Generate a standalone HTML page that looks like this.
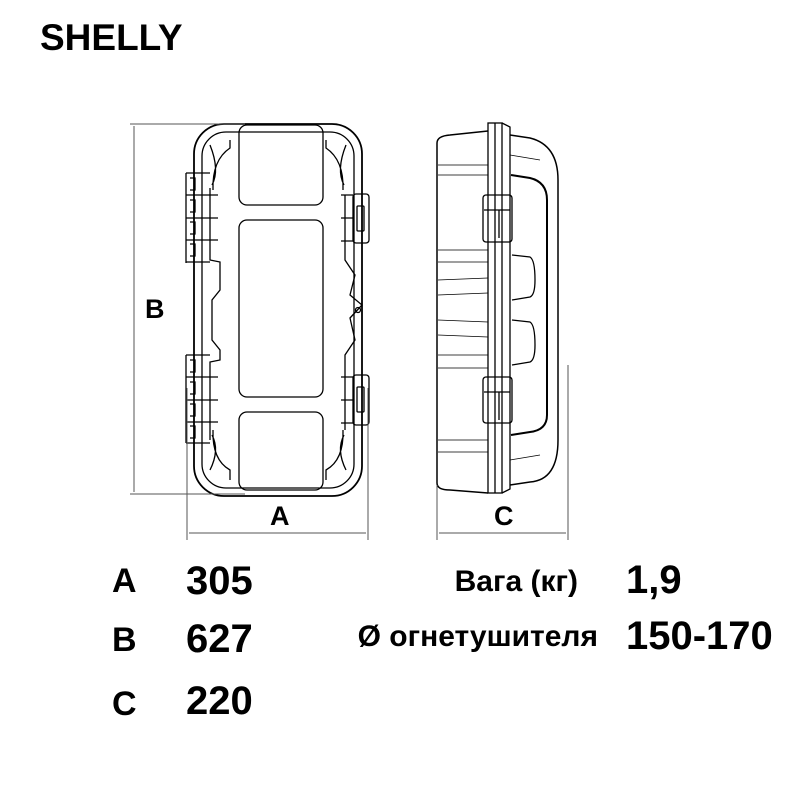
<!DOCTYPE html>
<html><head><meta charset="utf-8"><style>
body{margin:0;width:801px;height:801px;background:#fff;position:relative;overflow:hidden;font-family:"Liberation Sans",sans-serif;font-weight:bold;color:#000}
.t{position:absolute;white-space:nowrap}
</style></head><body>
<svg width="801" height="801" style="position:absolute;left:0;top:0" fill="none" stroke="#000" stroke-width="1.3">
<!-- front view -->
<rect x="194" y="124" width="168" height="372" rx="30" stroke-width="1.8"/>
<rect x="202" y="132" width="152" height="356" rx="24"/>
<rect x="239" y="125" width="84" height="80" rx="8"/>
<rect x="239" y="220" width="84" height="177" rx="8"/>
<rect x="239" y="412" width="84" height="78" rx="8"/>
<path d="M210 145 Q220 170 212 185 M230 140 L230 148 Q212 160 213 190"/>
<path d="M346 145 Q336 170 344 185 M326 140 L326 148 Q344 160 343 190"/>
<path d="M210 470 Q220 450 212 435 M230 480 L230 470 Q212 460 213 430"/>
<path d="M346 470 Q336 450 344 435 M326 480 L326 470 Q344 460 343 430"/>
<path d="M210 188 L210 260 L220 262 L220 290 L212 300 L212 340 L220 350 L220 360 L210 362 L210 440"/>
<path d="M345 195 L345 260 L355 275 L350 295 L362 305 L350 318 L355 340 L345 355 L345 430"/>
<circle cx="358" cy="310" r="2.5"/>
<g stroke-width="1.3">
<path d="M186 173 L186 263 M186 355 L186 443"/>
<path d="M186 173 L210 173 M186 195 L218 195 M186 218 L218 218 M186 240 L218 240 M186 262 L210 262"/>
<path d="M186 355 L210 355 M186 377 L218 377 M186 400 L218 400 M186 422 L218 422 M186 443 L210 443"/>
<path d="M190 178 h5 v12 h-5 M190 200 h5 v12 h-5 M190 222 h5 v12 h-5 M190 244 h5 v12 h-5"/>
<path d="M190 360 h5 v12 h-5 M190 382 h5 v12 h-5 M190 404 h5 v12 h-5 M190 426 h5 v12 h-5"/>
<rect x="353" y="194" width="16" height="49" rx="3"/>
<rect x="357" y="206" width="7" height="25" rx="1"/>
<rect x="353" y="375" width="16" height="50" rx="3"/>
<rect x="357" y="387" width="7" height="25" rx="1"/>
<path d="M341 195 h12 M341 218 h12 M341 241 h12 M341 377 h12 M341 400 h12 M341 423 h12"/>
</g>
<!-- dims front -->
<g stroke-width="1" stroke="#555">
<path d="M130 124 H245 M130 494 H245 M134 126 V492"/>
<path d="M187 388 V540 M368 388 V540 M189 533 H366"/>
</g>
<!-- side view -->
<path d="M437 143 Q437 136 450 135 L488 131 M437 143 V483 Q437 490 450 490 L488 493" stroke-width="1.5"/>
<rect x="488" y="123" width="14" height="370"/>
<path d="M495 123 V493"/>
<path d="M502 123 L510 127 V489 L502 493"/>
<path d="M510 135 L530 138 Q558 145 558 180 V440 Q558 480 530 482 L510 485" stroke-width="1.5"/>
<path d="M511 175 L530 178 Q547 182 547 200 V415 Q547 430 530 432 L511 435" stroke-width="2"/>
<path d="M512 255 L530 257 Q535 260 535 280 Q535 295 530 297 L512 300"/>
<path d="M512 320 L530 322 Q535 325 535 345 Q535 360 530 362 L512 365"/>
<rect x="483" y="195" width="29" height="47" rx="3"/>
<path d="M484 210 H510 M499 210 V238"/>
<rect x="483" y="377" width="29" height="46" rx="3"/>
<path d="M484 392 H510 M499 392 V420"/>
<path d="M438 165 H488 M438 175 H488 M438 250 H488 M438 262 L488 262 M438 280 L488 278 M438 295 L488 293 M438 320 L488 322 M438 335 L488 337 M438 355 H488 M438 368 H488 M438 440 H488 M438 452 H488" stroke-width="0.8"/>
<path d="M510 155 L540 160 M510 460 L540 455" stroke-width="0.8"/>
<g stroke-width="1" stroke="#555">
<path d="M437 485 V540 M568 365 V540 M439 533 H566"/>
</g>
</svg>
<div class="t" style="left:40px;top:17px;font-size:37px">SHELLY</div>
<div class="t" style="left:145px;top:294px;font-size:27px">B</div>
<div class="t" style="left:270px;top:501px;font-size:27px">A</div>
<div class="t" style="left:494px;top:501px;font-size:27px">C</div>
<div class="t" style="left:112px;top:562px;font-size:34px">A</div>
<div class="t" style="left:112px;top:621px;font-size:34px">B</div>
<div class="t" style="left:112px;top:685px;font-size:34px">C</div>
<div class="t" style="left:186px;top:559px;font-size:40px">305</div>
<div class="t" style="left:186px;top:617px;font-size:40px">627</div>
<div class="t" style="left:186px;top:679px;font-size:40px">220</div>
<div class="t" style="right:223px;top:565px;font-size:30px">Вага (кг)</div>
<div class="t" style="right:203px;top:620px;font-size:30px">Ø огнетушителя</div>
<div class="t" style="left:626px;top:558px;font-size:40px">1,9</div>
<div class="t" style="left:626px;top:614px;font-size:40px">150-170</div>
</body></html>
